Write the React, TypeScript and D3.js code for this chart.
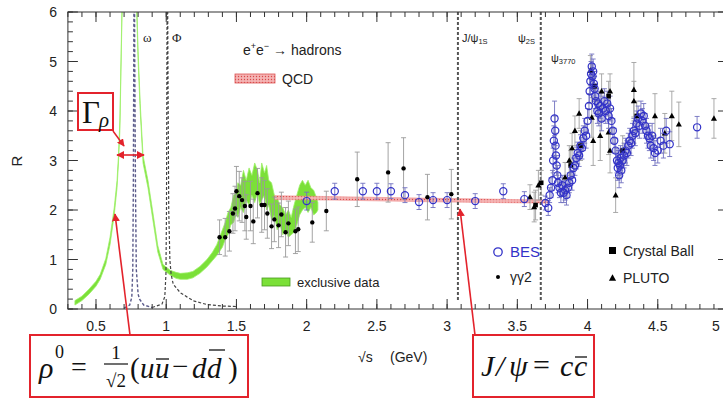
import React from "react";
import * as d3 from "d3";

const W = 723;
const H = 408;

// ---------- axis ticks ----------
const xMajor = [0.5, 1, 1.5, 2, 2.5, 3, 3.5, 4, 4.5, 5];
const xLabels = ["0.5", "1", "1.5", "2", "2.5", "3", "3.5", "4", "4.5", "5"];
const yMajor = [0, 1, 2, 3, 4, 5, 6];
const yLabels = ["0", "1", "2", "3", "4", "5", "6"];

// ---------- exclusive data band [x, lo, hi] ----------
const exclusiveBand: [number, number, number][] = [
  [0.35, 0.08, 0.17], [0.4, 0.17, 0.26], [0.45, 0.3, 0.4], [0.5, 0.46, 0.56],
  [0.53, 0.6, 0.7], [0.57, 0.9, 1.02], [0.6, 1.3, 1.45], [0.63, 1.9, 2.05],
  [0.65, 2.45, 2.6], [0.66, 2.95, 3.1], [0.67, 3.6, 3.8], [0.685, 5.9, 6.1],
  [0.7, 6.6, 6.8], [0.75, 7.5, 7.7], [0.775, 8.0, 8.2], [0.79, 6.0, 6.2],
  [0.8, 5.0, 5.2], [0.815, 4.0, 4.15], [0.835, 2.95, 3.1], [0.87, 2.45, 2.6],
  [0.905, 1.8, 1.95], [0.94, 1.15, 1.28], [0.977, 0.8, 0.9], [1.03, 0.68, 0.78],
  [1.07, 0.62, 0.74], [1.1, 0.6, 0.72], [1.15, 0.6, 0.73], [1.19, 0.63, 0.76],
  [1.24, 0.72, 0.86], [1.29, 0.85, 1.0], [1.33, 0.98, 1.15], [1.36, 1.08, 1.3],
  [1.4, 1.25, 1.6], [1.42, 1.4, 1.75], [1.44, 1.5, 1.95], [1.46, 1.7, 2.05],
  [1.48, 1.75, 2.3], [1.5, 1.95, 2.35], [1.51, 1.85, 2.55], [1.53, 2.05, 2.5],
  [1.55, 1.95, 2.8], [1.57, 2.2, 2.6], [1.59, 2.1, 2.85], [1.61, 2.3, 2.7],
  [1.63, 2.15, 2.95], [1.65, 2.35, 2.8], [1.665, 2.1, 2.55], [1.68, 2.2, 2.95],
  [1.7, 2.3, 2.75], [1.715, 2.0, 2.9], [1.73, 2.1, 2.6], [1.75, 1.8, 2.55],
  [1.77, 1.9, 2.3], [1.79, 1.6, 2.25], [1.81, 1.7, 2.1], [1.83, 1.5, 2.05],
  [1.85, 1.6, 1.9], [1.87, 1.45, 2.0], [1.89, 1.5, 1.85], [1.91, 1.55, 2.1],
  [1.93, 1.7, 2.3], [1.95, 1.9, 2.5], [1.97, 2.0, 2.6], [1.99, 2.05, 2.5],
  [2.01, 1.95, 2.6], [2.03, 2.05, 2.45], [2.05, 1.9, 2.4], [2.07, 1.95, 2.25],
  [2.08, 2.0, 2.15],
];

// ---------- QCD band [x, lo, hi] ----------
const qcdBand: [number, number, number][] = [
  [1.77, 2.21, 2.29], [2.2, 2.2, 2.27], [2.8, 2.17, 2.24], [3.3, 2.15, 2.22], [3.72, 2.14, 2.2],
];

// ---------- resonance curves (dashed) ----------
const omegaCurve: [number, number][] = [
  [0.7, 0.02], [0.74, 0.08], [0.755, 0.24], [0.762, 0.8], [0.766, 2.5], [0.769, 5],
  [0.772, 8], [0.776, 5], [0.781, 2.5], [0.787, 0.8], [0.8, 0.3], [0.81, 0.2],
  [0.84, 0.08], [0.9, 0.03],
];
const phiCurve: [number, number][] = [
  [0.9, 0.03], [0.97, 0.1], [0.99, 0.25], [0.998, 0.7], [1.002, 2], [1.005, 5],
  [1.008, 8], [1.012, 5], [1.018, 2], [1.026, 1.0], [1.035, 0.7], [1.05, 0.5],
  [1.1, 0.33], [1.15, 0.24], [1.2, 0.16], [1.29, 0.09], [1.4, 0.06], [1.5, 0.05],
];
const narrowResonances = [
  { name: "J/ψ", sub: "1S", mass: 3.077 },
  { name: "ψ", sub: "2S", mass: 3.667 },
];

// ---------- data points [x, R, err] ----------
const gammaGamma2: [number, number, number][] = [
  [1.38, 1.45, 0.35], [1.42, 1.45, 0.38], [1.45, 1.57, 0.4], [1.475, 1.93, 0.4],
  [1.49, 2.03, 0.45], [1.5, 2.38, 0.5], [1.52, 2.28, 0.5], [1.54, 2.2, 0.45],
  [1.56, 2.08, 0.5], [1.57, 1.86, 0.45], [1.6, 2.08, 0.5], [1.62, 1.77, 0.45],
  [1.65, 2.34, 0.5], [1.68, 2.1, 0.55], [1.7, 2.1, 0.5], [1.72, 1.93, 0.5],
  [1.75, 1.67, 0.45], [1.77, 1.81, 0.45], [1.8, 1.69, 0.45], [1.82, 1.91, 0.45],
  [1.85, 1.55, 0.5], [1.87, 1.73, 0.45], [1.92, 1.57, 0.45], [1.94, 1.61, 0.45],
  [2.04, 1.75, 0.4], [2.14, 1.98, 0.4], [2.36, 2.62, 0.55], [2.58, 2.76, 0.6],
  [2.69, 2.84, 0.62], [2.86, 2.26, 0.46], [3.03, 2.32, 0.5],
];

const bes: [number, number, number][] = [
  [2.0, 2.18, 0.18], [2.2, 2.38, 0.16], [2.4, 2.38, 0.16], [2.5, 2.38, 0.16],
  [2.6, 2.38, 0.15], [2.7, 2.3, 0.15], [2.8, 2.16, 0.15], [2.9, 2.2, 0.15],
  [3.0, 2.2, 0.15], [3.2, 2.18, 0.15], [3.4, 2.38, 0.15], [3.55, 2.22, 0.15],
  [3.7, 2.14, 0.14], [3.72, 2.04, 0.15], [3.73, 2.3, 0.15], [3.74, 2.45, 0.2],
  [3.75, 2.6, 0.2], [3.755, 3.0, 0.25], [3.76, 3.4, 0.3], [3.765, 3.85, 0.35],
  [3.77, 3.6, 0.3], [3.772, 3.3, 0.25], [3.775, 3.1, 0.25], [3.78, 2.9, 0.2],
  [3.785, 2.7, 0.2], [3.79, 2.55, 0.2], [3.8, 2.45, 0.2], [3.81, 2.35, 0.2],
  [3.82, 2.5, 0.2], [3.83, 2.35, 0.2], [3.84, 2.4, 0.2], [3.85, 2.3, 0.2],
  [3.86, 2.45, 0.2], [3.87, 2.55, 0.2], [3.88, 2.7, 0.2], [3.89, 2.6, 0.2],
  [3.9, 2.85, 0.2], [3.91, 2.9, 0.2], [3.92, 3.05, 0.22], [3.93, 3.15, 0.22],
  [3.94, 3.1, 0.22], [3.95, 3.3, 0.22], [3.96, 3.25, 0.22], [3.97, 3.45, 0.25],
  [3.98, 3.6, 0.25], [3.99, 3.5, 0.25], [4.0, 3.8, 0.25], [4.01, 4.1, 0.25],
  [4.015, 4.4, 0.25], [4.02, 4.6, 0.25], [4.025, 4.75, 0.25], [4.03, 4.9, 0.25],
  [4.035, 4.7, 0.25], [4.04, 4.8, 0.25], [4.045, 4.55, 0.25], [4.05, 4.45, 0.25],
  [4.055, 4.3, 0.25], [4.06, 4.2, 0.25], [4.07, 4.0, 0.25], [4.075, 4.15, 0.25],
  [4.08, 3.95, 0.25], [4.09, 4.1, 0.25], [4.1, 3.85, 0.25], [4.11, 4.05, 0.25],
  [4.12, 4.2, 0.25], [4.13, 4.0, 0.25], [4.14, 4.15, 0.25], [4.15, 3.9, 0.25],
  [4.16, 4.05, 0.25], [4.17, 3.8, 0.25], [4.18, 3.6, 0.25], [4.19, 3.4, 0.25],
  [4.2, 3.2, 0.25], [4.21, 3.0, 0.25], [4.215, 2.85, 0.25], [4.22, 2.95, 0.25],
  [4.225, 2.7, 0.25], [4.23, 2.9, 0.25], [4.235, 3.05, 0.25], [4.24, 2.8, 0.25],
  [4.25, 3.0, 0.25], [4.26, 3.1, 0.25], [4.27, 3.2, 0.25], [4.28, 3.15, 0.25],
  [4.29, 3.3, 0.25], [4.3, 3.4, 0.25], [4.31, 3.35, 0.25], [4.32, 3.5, 0.25],
  [4.33, 3.6, 0.25], [4.34, 3.55, 0.25], [4.35, 3.75, 0.25], [4.36, 3.85, 0.25],
  [4.37, 3.7, 0.25], [4.38, 3.95, 0.25], [4.39, 3.8, 0.25], [4.4, 3.9, 0.25],
  [4.41, 3.7, 0.25], [4.42, 3.6, 0.25], [4.43, 3.5, 0.25], [4.44, 3.45, 0.25],
  [4.45, 3.3, 0.25], [4.46, 3.5, 0.25], [4.47, 3.25, 0.25], [4.48, 3.15, 0.25],
  [4.5, 3.2, 0.25], [4.52, 3.4, 0.25], [4.54, 3.3, 0.25], [4.56, 3.6, 0.25],
  [4.585, 3.33, 0.25], [4.78, 3.67, 0.22],
];

const pluto: [number, number, number][] = [
  [3.59, 2.26, 0.25], [3.62, 2.06, 0.3], [3.65, 2.5, 0.3], [3.84, 2.66, 0.3],
  [3.87, 3.0, 0.3], [3.89, 3.25, 0.3], [3.91, 3.6, 0.3], [3.94, 3.95, 0.3],
  [4.02, 4.82, 0.3], [4.03, 3.87, 0.4], [4.04, 3.4, 0.5], [4.09, 3.5, 0.5],
  [4.1, 4.4, 0.35], [4.15, 3.57, 0.45], [4.16, 3.2, 0.45], [4.16, 4.4, 0.35],
  [4.2, 2.3, 0.35], [4.33, 4.43, 0.55], [4.33, 4.2, 0.4], [4.48, 3.9, 0.45],
  [4.55, 3.55, 0.4], [4.6, 3.9, 0.5], [4.65, 3.73, 0.45], [4.9, 3.85, 0.4],
];

const crystalBall: [number, number, number][] = [
  [3.63, 2.1, 0.3], [3.67, 2.55, 0.25], [3.88, 2.9, 0.3], [3.95, 3.3, 0.3],
  [4.05, 4.5, 0.3], [4.15, 4.3, 0.3], [4.25, 3.2, 0.3], [4.35, 3.9, 0.3],
];

const SANS = "'Liberation Sans', Arial, Helvetica, sans-serif";
const SERIF = "'Liberation Serif', 'Times New Roman', serif";
const RED = "#e3232c";
const BLUE = "#3232c8";

export default function App() {
  const x = d3.scaleLinear().domain([0.3, 5]).range([67.9, 728]);
  const y = d3.scaleLinear().domain([0, 6]).range([309, 12]);
  const [x0, x1] = x.range();
  const [yb, yt] = y.range();

  const xMinor = d3.range(3, 51).map((i) => i / 10);
  const yMinor = d3.range(0, 31).map((i) => i * 0.2);

  const area = d3
    .area<[number, number, number]>()
    .x((d) => x(d[0]))
    .y0((d) => y(d[1]))
    .y1((d) => y(d[2]));
  const line = d3
    .line<[number, number]>()
    .x((d) => x(d[0]))
    .y((d) => y(d[1]));

  const errBar = (d: [number, number, number], color: string, i: number, cap = 2.5) => {
    const cx = x(d[0]);
    const t = y(d[1] + d[2]);
    const b = y(d[1] - d[2]);
    return (
      <g key={i} stroke={color} strokeWidth={0.9}>
        <line x1={cx} x2={cx} y1={t} y2={b} />
        <line x1={cx - cap} x2={cx + cap} y1={t} y2={t} />
        <line x1={cx - cap} x2={cx + cap} y1={b} y2={b} />
      </g>
    );
  };

  const tri = (cx: number, cy: number, s: number) =>
    `M${cx},${cy - s} L${cx + s * 0.95},${cy + s * 0.7} L${cx - s * 0.95},${cy + s * 0.7} Z`;

  const boxTop = 335;

  return (
    <svg width={W} height={H} style={{ display: "block", position: "absolute", left: 0, top: 0 }}>
      <defs>
        <clipPath id="plot">
          <rect x={x0} y={yt} width={x1 - x0} height={yb - yt} />
        </clipPath>
        <pattern id="qcdpat" width="3" height="3" patternUnits="userSpaceOnUse">
          <rect width="3" height="3" fill="#f4b3b3" />
          <circle cx="1.5" cy="1.5" r="0.7" fill="#d84848" />
        </pattern>
        <marker id="ah" viewBox="0 0 10 10" refX="9" refY="5" markerWidth="5" markerHeight="5" orient="auto-start-reverse">
          <path d="M0,0 L10,5 L0,10 Z" fill={RED} />
        </marker>
      </defs>
      <rect width={W} height={H} fill="#fff" />

      <g clipPath="url(#plot)">
        <path d={area(exclusiveBand) || ""} fill="#7be038" stroke="#9ef06a" strokeWidth={0.8} />
        <path d={area(qcdBand) || ""} fill="url(#qcdpat)" stroke="#e88" strokeWidth={0.6} />
        <path d={line(omegaCurve) || ""} fill="none" stroke="#5a5a8a" strokeWidth={1.4} strokeDasharray="3,2" />
        <path d={line(phiCurve) || ""} fill="none" stroke="#444" strokeWidth={1.2} strokeDasharray="3,2" />
        {narrowResonances.map((r, i) => (
          <line key={i} x1={x(r.mass)} x2={x(r.mass)} y1={y(6)} y2={y(0.15)} stroke="#555" strokeWidth={2} strokeDasharray="3,2" />
        ))}
        {gammaGamma2.map((d, i) => errBar(d, "#9a9a9a", i))}
        {pluto.map((d, i) => errBar(d, "#a0a0a0", i))}
        {crystalBall.map((d, i) => errBar(d, "#a0a0a0", i))}
        {bes.map((d, i) => errBar(d, "#7070c0", i))}
        {gammaGamma2.map((d, i) => (
          <circle key={i} cx={x(d[0])} cy={y(d[1])} r={2.2} fill="#000" />
        ))}
        {pluto.map((d, i) => (
          <path key={i} d={tri(x(d[0]), y(d[1]), 3.2)} fill="#000" />
        ))}
        {crystalBall.map((d, i) => (
          <rect key={i} x={x(d[0]) - 2.3} y={y(d[1]) - 2.3} width={4.6} height={4.6} fill="#000" />
        ))}
        {bes.map((d, i) => (
          <circle key={i} cx={x(d[0])} cy={y(d[1])} r={3.6} fill="none" stroke={BLUE} strokeWidth={1.2} />
        ))}
      </g>

      {/* frame */}
      <rect x={x0} y={yt} width={x1 - x0} height={yb - yt} fill="none" stroke="#333" strokeWidth={1} />
      <g stroke="#333" strokeWidth={1}>
        {xMinor.map((v, i) => (
          <g key={i}>
            <line x1={x(v)} x2={x(v)} y1={yb} y2={yb - 5} />
            <line x1={x(v)} x2={x(v)} y1={yt} y2={yt + 5} />
          </g>
        ))}
        {xMajor.map((v, i) => (
          <g key={i}>
            <line x1={x(v)} x2={x(v)} y1={yb} y2={yb - 10} />
            <line x1={x(v)} x2={x(v)} y1={yt} y2={yt + 10} />
          </g>
        ))}
        {yMinor.map((v, i) => (
          <g key={i}>
            <line x1={x0} x2={x0 + 5} y1={y(v)} y2={y(v)} />
            <line x1={x1} x2={x1 - 5} y1={y(v)} y2={y(v)} />
          </g>
        ))}
        {yMajor.map((v, i) => (
          <g key={i}>
            <line x1={x0} x2={x0 + 10} y1={y(v)} y2={y(v)} />
            <line x1={x1} x2={x1 - 10} y1={y(v)} y2={y(v)} />
          </g>
        ))}
      </g>
      <g fontFamily={SANS} fontSize={14} fill="#222">
        {xMajor.map((v, i) => (
          <text key={i} x={Math.min(x(v), 716)} y={331} textAnchor="middle">{xLabels[i]}</text>
        ))}
        {yMajor.map((v, i) => (
          <text key={i} x={57} y={y(v) + 5} textAnchor="end">{yLabels[i]}</text>
        ))}
        <text x={22} y={161} transform="rotate(-90 22 161)" textAnchor="middle" fontSize={15}>R</text>
        <text x={358} y={362} fontSize={14}>√s</text>
        <text x={390} y={362} fontSize={14}>(GeV)</text>
      </g>

      {/* resonance labels */}
      <g fontFamily={SERIF} fontSize={13} fill="#222">
        <text x={143} y={42}>ω</text>
        <text x={172} y={42}>Φ</text>
      </g>
      <g fontFamily={SANS} fontSize={11} fill="#222">
        <text x={462} y={42}>J/ψ<tspan fontSize={7.5} dy={2}>1S</tspan></text>
        <text x={518} y={42}>ψ<tspan fontSize={7.5} dy={2}>2S</tspan></text>
        <text x={551} y={62}>ψ<tspan fontSize={7.5} dy={2}>3770</tspan></text>
      </g>

      {/* legends */}
      <g fontFamily={SANS} fontSize={14} fill="#222">
        <text x={243} y={55}>e<tspan fontSize={9} dy={-6}>+</tspan><tspan dy={6}>e</tspan><tspan fontSize={9} dy={-6}>−</tspan><tspan dy={6}> → hadrons</tspan></text>
        <rect x={235} y={74} width={40} height={9} fill="url(#qcdpat)" stroke="#d55" strokeWidth={0.8} />
        <text x={282} y={84}>QCD</text>
        <rect x={262} y={278} width={28} height={8} fill="#7be038" stroke="#4a9a20" strokeWidth={0.8} />
        <text x={297} y={287} fontSize={13}>exclusive data</text>
        <circle cx={498} cy={252} r={4.2} fill="none" stroke={BLUE} strokeWidth={1.3} />
        <text x={510} y={257} fill={BLUE} fontSize={15}>BES</text>
        <circle cx={498} cy={277} r={2} fill="#000" />
        <text x={510} y={282}>γγ2</text>
        <rect x={609} y={247} width={7} height={7} fill="#000" />
        <text x={623} y={256}>Crystal Ball</text>
        <path d={tri(612.5, 278, 3.8)} fill="#000" />
        <text x={623} y={283}>PLUTO</text>
      </g>

      {/* annotations */}
      <g stroke={RED} fill="none" strokeWidth={2}>
        <rect x={78} y={93} width={35} height={37} />
        <line x1={113} y1={131} x2={124} y2={146} strokeWidth={1.5} markerEnd="url(#ah)" />
        <line x1={117} y1={155} x2={144} y2={155} strokeWidth={1.6} markerStart="url(#ah)" markerEnd="url(#ah)" />
        <rect x={30} y={boxTop} width={218} height={62} />
        <line x1={130} y1={boxTop} x2={115} y2={214} strokeWidth={1.6} markerEnd="url(#ah)" />
        <rect x={473} y={boxTop} width={121} height={62} />
        <line x1={475} y1={boxTop} x2={460} y2={209} strokeWidth={1.6} markerEnd="url(#ah)" />
      </g>
      <g fontFamily={SERIF} fill="#111">
        <text x={82} y={123} fontSize={31}>Γ</text>
        <text x={99} y={127} fontSize={21} fontStyle="italic">ρ</text>

        <text x={39} y={378} fontSize={30} fontStyle="italic">ρ</text>
        <text x={55} y={358} fontSize={18}>0</text>
        <text x={71} y={376} fontSize={28}>=</text>
        <text x={116} y={359} fontSize={19} textAnchor="middle">1</text>
        <line x1={104} x2={128} y1={364} y2={364} stroke="#111" strokeWidth={1.2} />
        <text x={116} y={387} fontSize={19} textAnchor="middle">√2</text>
        <g fontSize={29}>
          <text x={130} y={378}>(</text>
          <text x={140} y={378} fontStyle="italic">u</text>
          <text x={155} y={378} fontStyle="italic">u</text>
          <line x1={156} x2={169} y1={359} y2={359} stroke="#111" strokeWidth={1.3} />
          <text x={172} y={376}>−</text>
          <text x={192} y={378} fontStyle="italic">d</text>
          <text x={207} y={378} fontStyle="italic">d</text>
          <line x1={209} x2={225} y1={350} y2={350} stroke="#111" strokeWidth={1.3} />
          <text x={228} y={378}>)</text>
        </g>

        <g fontSize={30} fontStyle="italic">
          <text x={481} y={376}>J</text>
          <text x={496} y={376}>/</text>
          <text x={509} y={376}>ψ</text>
          <text x={533} y={375} fontStyle="normal">=</text>
          <text x={560} y={376}>c</text>
          <text x={574} y={376}>c</text>
          <line x1={575} x2={587} y1={357} y2={357} stroke="#111" strokeWidth={1.3} />
        </g>
      </g>
    </svg>
  );
}
